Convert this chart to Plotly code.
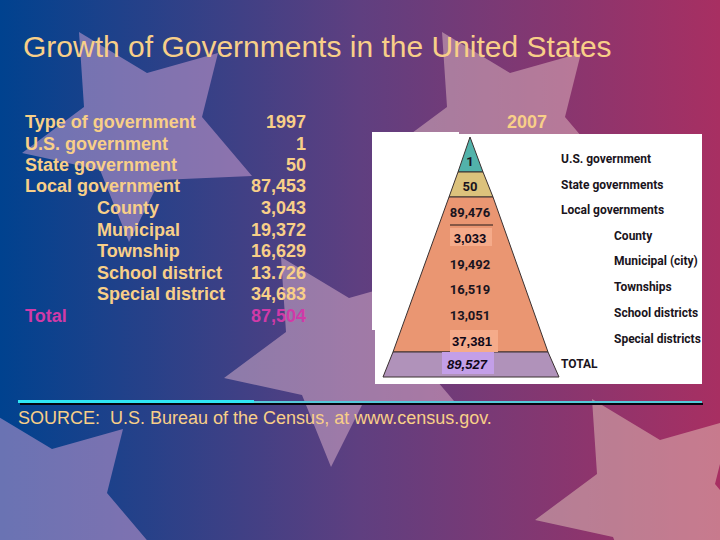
import plotly.graph_objects as go

# table on the left
row_labels = ["Type of government", "U.S. government", "State government", "Local government",
              "County", "Municipal", "Township", "School district", "Special district", "Total"]
values_1997 = ["1997", "1", "50", "87,453", "3,043", "19,372", "16,629", "13.726", "34,683", "87,504"]
row_x = [25, 25, 25, 25, 97, 97, 97, 97, 97, 25]
row_y = [123, 145, 166, 187, 209, 231, 252, 274, 295, 317]

# pyramid on the right (2007)
pyramid_values = ["1", "50", "89,476", "19,492", "16,519", "13,051"]
pyramid_value_y = [163, 188, 214, 266, 291, 317]
pasted_values = ["3,033", "37,381", "89,527"]
pasted_x = [470, 472, 467]
pasted_y = [240, 343, 366]
pyramid_labels = ["U.S. government", "State governments", "Local governments", "County",
                  "Municipal (city)", "Townships", "School districts", "Special districts", "TOTAL"]
pyramid_label_x = [561, 561, 561, 614, 614, 614, 614, 614, 561]
pyramid_label_y = [160, 186, 211, 237, 262, 288, 314, 340, 365]

# pyramid bands, outline in pixels of the slide
band_x = [[470, 458, 483], [458, 449, 493, 483], [449, 393, 548, 493], [393, 383, 559, 548]]
band_y = [[137, 172, 172], [172, 197, 197, 172], [197, 352, 352, 197], [352, 377, 377, 352]]
band_colors = ["#52b2aa", "#dcc27c", "#ea9672", "#b092ba"]

# patches pasted over the picture
patch_x = [[450, 492], [450, 498], [442, 494]]
patch_y = [[228, 246], [330, 352], [352, 374]]
patch_colors = ["#f5ab8a", "#f5ab8a", "#c39fe8"]

white_x = [372, 459, 459, 702, 702, 375, 375, 372]
white_y = [132, 132, 134, 134, 384, 384, 330, 330]

# one star and where it gets repeated
star_x = [79, 147, 218, 202, 252, 160, 129, 100, 22, 84]
star_y = [32, 73, 53, 117, 176, 180, 242, 170, 153, 107]
star_dx = [0, 363, 202, 513, -95]
star_dy = [0, 0, 225, 367, 376]
star_colors = ["rgba(235,178,225,0.45)", "rgba(240,205,205,0.45)", "rgba(240,195,215,0.45)",
               "rgba(240,215,195,0.45)", "rgba(235,175,225,0.45)"]

TAN = "#f8cf88"
PINK = "#d03aa8"
DARK = "#1a1420"
SANS = "Liberation Sans"
NARROW = "Roboto"

fig = go.Figure()


def poly(xs, ys, color, line_color=None, **kw):
    fig.add_trace(go.Scatter(x=xs + xs[:1], y=ys + ys[:1], mode="lines", fill="toself", fillcolor=color,
                             line=dict(color=line_color or "rgba(0,0,0,0)", width=1), hoverinfo="skip", **kw))


def text(xs, ys, labels, size, color, pos, family=SANS):
    fig.add_trace(go.Scatter(x=xs, y=ys, mode="text", text=labels, textposition=pos,
                             textfont=dict(family=family, size=size, color=color), hoverinfo="skip"))


# background
poly([0, 720, 720, 0], [0, 0, 540, 540], "#5c4080",
     fillgradient=dict(type="horizontal",
                       colorscale=[[0, "#00428f"], [0.5, "#5f3f80"], [1, "#a82f62"]]))

for dx, dy, c in zip(star_dx, star_dy, star_colors):
    poly([x + dx for x in star_x], [y + dy for y in star_y], c)

# picture
poly(white_x, white_y, "#ffffff")
for xs, ys, c in zip(band_x, band_y, band_colors):
    poly(xs, ys, c, line_color="#3a3030")
for xs, ys, c in zip(patch_x, patch_y, patch_colors):
    poly([xs[0], xs[1], xs[1], xs[0]], [ys[0], ys[0], ys[1], ys[1]], c)

# line under the local government count
fig.add_trace(go.Scatter(x=[450, 493], y=[225, 225], mode="lines", line=dict(color="#201818", width=1),
                         hoverinfo="skip"))

# rule above the source note
fig.add_trace(go.Scatter(x=[20, 703], y=[404, 404], mode="lines", line=dict(color="#050510", width=2),
                         hoverinfo="skip"))
fig.add_trace(go.Scatter(x=[18, 702], y=[402, 402], mode="lines", line=dict(color="#55c8da", width=2),
                         hoverinfo="skip"))
fig.add_trace(go.Scatter(x=[18, 254], y=[401.5, 401.5], mode="lines", line=dict(color="#2fe6f4", width=3),
                         hoverinfo="skip"))

# title, table, source
text([23], [49], ["Growth of Governments in the United States"], 30, TAN, "middle right")
bold_rows = ["<b>%s</b>" % s for s in row_labels]
bold_vals = ["<b>%s</b>" % s for s in values_1997]
colors = [TAN] * 9 + [PINK]
text(row_x, row_y, bold_rows, 18, colors, "middle right")
text([306] * len(row_y), row_y, bold_vals, 18, colors, "middle left")
text([527], [123], ["<b>2007</b>"], 18, TAN, "middle center")
text([18], [419], ["SOURCE:  U.S. Bureau of the Census, at www.census.gov."], 18, TAN, "middle right")

# pyramid text
text([470] * len(pyramid_value_y), pyramid_value_y, ["<b>%s</b>" % s for s in pyramid_values], 13, DARK,
     "middle center", NARROW)
pasted_text = ["<b>%s</b>" % pasted_values[0], "<b>%s</b>" % pasted_values[1], "<b><i>%s</i></b>" % pasted_values[2]]
text(pasted_x, pasted_y, pasted_text, 13, "#100818", "middle center", SANS)
text(pyramid_label_x, pyramid_label_y, ["<b>%s</b>" % s for s in pyramid_labels], 12, DARK, "middle right", NARROW)

fig.update_xaxes(range=[0, 720], visible=False)
fig.update_yaxes(range=[540, 0], visible=False)
fig.update_layout(width=720, height=540, margin=dict(l=0, r=0, t=0, b=0), showlegend=False,
                  paper_bgcolor="#5c4080", plot_bgcolor="#5c4080")

# the page margin would push the slide 8px off
fig.write_html("out.html", config=dict(displayModeBar=False),
               post_script="document.body.style.margin='0';document.body.style.overflow='hidden';")
